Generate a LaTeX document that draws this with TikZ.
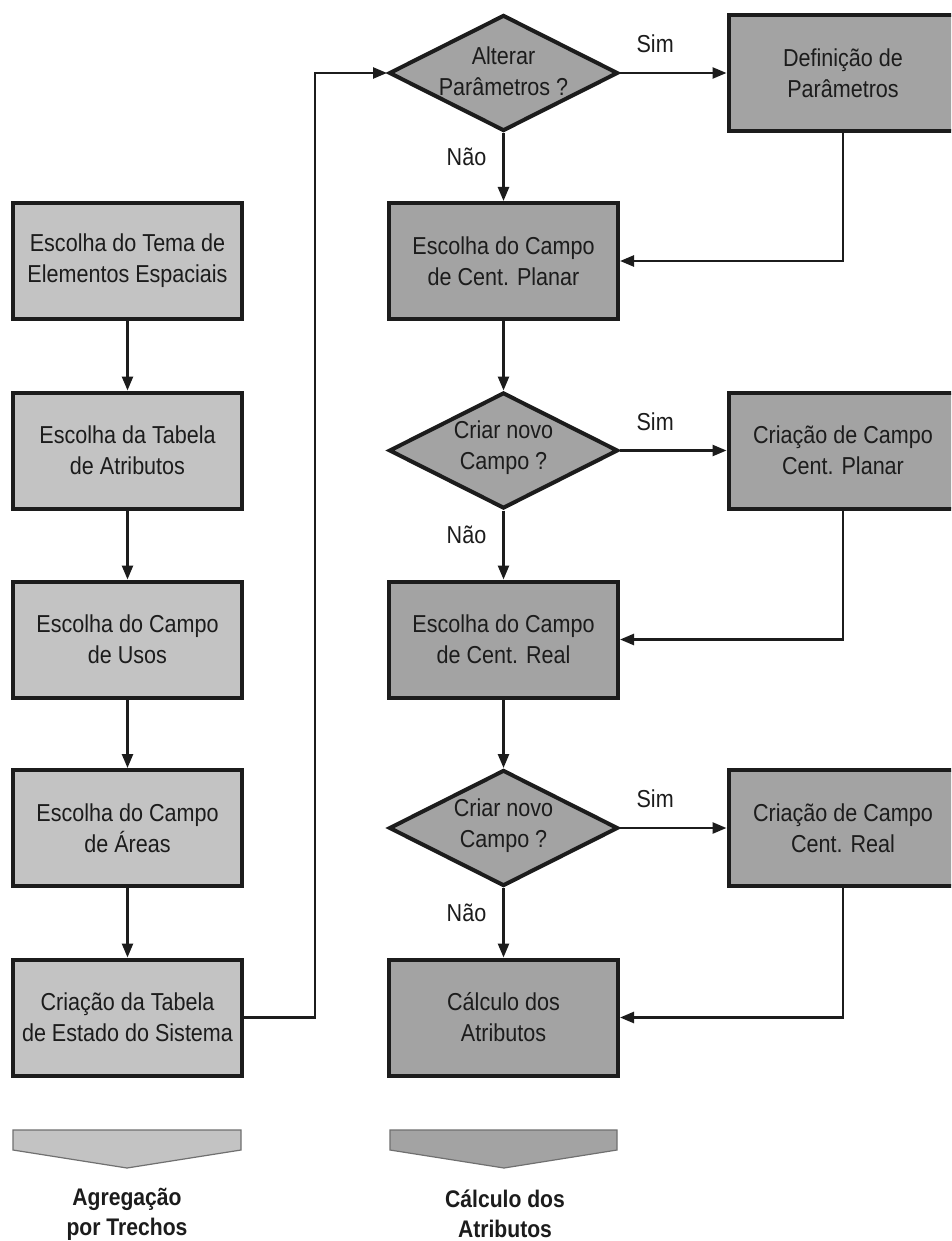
\documentclass[tikz,border=0pt]{standalone}
\usepackage{fontspec}
\setmainfont{Liberation Sans}[FakeStretch=0.88]
\usetikzlibrary{arrows.meta,shapes.geometric}

\definecolor{lightfill}{HTML}{C3C3C3}
\definecolor{darkfill}{HTML}{A3A3A3}
\definecolor{edgegray}{HTML}{707070}
\definecolor{ink}{HTML}{1C1C1C}

\newcommand\boxfont{\fontsize{24.5}{31}\selectfont}
\newcommand\phasefont{\fontsize{24}{30}\selectfont\bfseries}

\begin{document}
\begin{tikzpicture}[x=1pt,y=-1pt,
  box/.style={rectangle, draw=ink, line width=4pt, minimum width=229pt,
    minimum height=116pt, inner sep=0pt, align=center, font=\boxfont, text=ink},
  lbox/.style={box, fill=lightfill},
  rbox/.style={box, fill=darkfill},
  decision/.style={diamond, draw=ink, line width=4pt, fill=darkfill,
    minimum width=229pt, minimum height=116pt, inner sep=0pt},
  dtext/.style={align=center, font=\boxfont, inner sep=0pt, text=ink},
  flow/.style={line width=2.5pt, draw=ink, -{Triangle[length=14pt,width=11pt]}},
  lab/.style={font=\boxfont, inner sep=0pt, text=ink},
  phase/.style={draw=edgegray, line width=1.2pt},
  phasetext/.style={font=\phasefont, align=center, inner sep=0pt, text=ink}
]
\useasboundingbox (0,0) rectangle (951,1241);
\fill[white] (0,0) rectangle (951,1241);
\clip (0,0) rectangle (951,1241);

% left column: aggregation by stretches
\node[lbox] (l1) at (127.5,261)    {Escolha do Tema de\\Elementos Espaciais};
\node[lbox] (l2) at (127.5,450.5)  {Escolha da Tabela\\de Atributos};
\node[lbox] (l3) at (127.5,639.5)  {Escolha do Campo\\de Usos};
\node[lbox] (l4) at (127.5,828)    {Escolha do Campo\\de Áreas};
\node[lbox] (l5) at (127.5,1017.5) {Criação da Tabela\\de Estado do Sistema};

% middle column: attribute calculation
\node[decision] (d1) at (503.5,73) {};
\node[dtext] (d1t) at (503.5,71) {Alterar\\Parâmetros ?};
\node[rbox] (m1) at (503.5,261) {Escolha do Campo\\de Cent. Planar};
\node[decision] (d2) at (503.5,450.5) {};
\node[dtext] (d2t) at (503.5,448) {Criar novo\\Campo ?};
\node[rbox] (m2) at (503.5,639.5) {Escolha do Campo\\de Cent. Real};
\node[decision] (d3) at (503.5,828) {};
\node[dtext] (d3t) at (503.5,826) {Criar novo\\Campo ?};
\node[rbox] (m3) at (503.5,1017.5) {Cálculo dos\\Atributos};

% right column: optional steps
\node[rbox] (r1) at (843,73)    {Definição de\\Parâmetros};
\node[rbox] (r2) at (843,450.5) {Criação de Campo\\Cent. Planar};
\node[rbox] (r3) at (843,828)   {Criação de Campo\\Cent. Real};

% main flow
\draw[flow] (l1) -- (l2);
\draw[flow] (l2) -- (l3);
\draw[flow] (l3) -- (l4);
\draw[flow] (l4) -- (l5);
\draw[flow] (l5.east) -- ++(71,0) |- (d1.west);

\draw[flow] (d1.east) -- node[lab, pos=0.33, above=19pt] {Sim} (r1.west);
\draw[flow] (d1.south) -- node[lab, pos=0.35, left=16pt] {Não} (m1.north);
\draw[flow] (r1.south) |- (m1.east);
\draw[flow] (m1) -- (d2.north);

\draw[flow] (d2.east) -- node[lab, pos=0.33, above=19pt] {Sim} (r2.west);
\draw[flow] (d2.south) -- node[lab, pos=0.35, left=16pt] {Não} (m2.north);
\draw[flow] (r2.south) |- (m2.east);
\draw[flow] (m2) -- (d3.north);

\draw[flow] (d3.east) -- node[lab, pos=0.33, above=19pt] {Sim} (r3.west);
\draw[flow] (d3.south) -- node[lab, pos=0.35, left=16pt] {Não} (m3.north);
\draw[flow] (r3.south) |- (m3.east);

% phase markers
\filldraw[phase, fill=lightfill] (13,1130) -- (241,1130) -- (241,1150) -- (127,1168) -- (13,1150) -- cycle;
\filldraw[phase, fill=darkfill] (390,1130) -- (617,1130) -- (617,1150) -- (504,1168) -- (390,1150) -- cycle;
\node[phasetext] (p1) at (127,1214) {Agregação\\por Trechos};
\node[phasetext] (p2) at (505,1214) {Cálculo dos\\Atributos};
\end{tikzpicture}
\end{document}
